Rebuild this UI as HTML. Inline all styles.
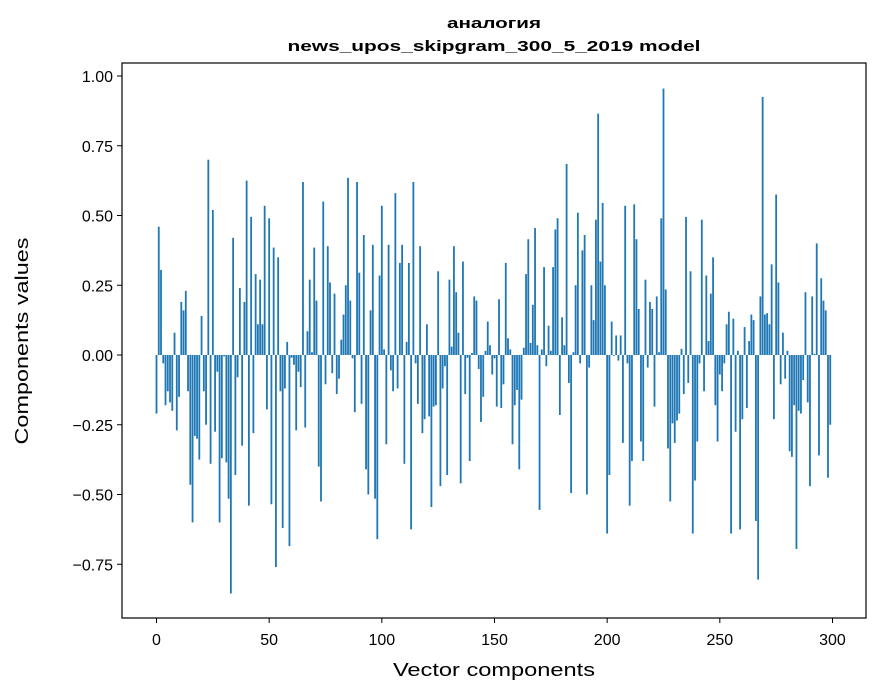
<!DOCTYPE html>
<html><head><meta charset="utf-8"><style>
body{margin:0;background:#fff;}
svg{display:block;font-family:"Liberation Sans","DejaVu Sans",sans-serif;}
</style></head><body>
<svg id="chart" width="880" height="696" viewBox="0 0 880 696" xmlns="http://www.w3.org/2000/svg">
<rect width="880" height="696" fill="#fff"/>
<text x="494" y="28" text-anchor="middle" font-size="15" font-weight="bold" textLength="94" lengthAdjust="spacingAndGlyphs">аналогия</text>
<text x="494" y="51" text-anchor="middle" font-size="15" font-weight="bold" textLength="413" lengthAdjust="spacingAndGlyphs">news_upos_skipgram_300_5_2019 model</text>
<g id="bars"></g>
<g id="xticks"></g>
<g id="yticks"></g>
<rect x="122" y="63" width="744" height="555" fill="none" stroke="#000" stroke-width="1.2"/>
<text x="494" y="676" text-anchor="middle" font-size="18" textLength="202" lengthAdjust="spacingAndGlyphs">Vector components</text>
<text transform="translate(28,341) rotate(-90)" text-anchor="middle" font-size="18" textLength="207" lengthAdjust="spacingAndGlyphs">Components values</text>
</svg>
<script>
const values = [
-0.21,0.46,0.305,-0.03,-0.18,-0.13,-0.17,-0.20,0.08,-0.27,
-0.15,0.19,0.16,0.23,-0.13,-0.465,-0.60,-0.29,-0.30,-0.375,
0.14,-0.13,-0.25,0.70,-0.39,0.52,-0.275,-0.06,-0.60,-0.37,
-0.005,-0.385,-0.515,-0.855,0.42,-0.43,-0.08,0.24,-0.325,0.19,
0.625,-0.54,0.495,-0.28,0.29,0.11,0.27,0.11,0.535,-0.195,
0.49,-0.535,0.385,-0.76,0.35,-0.13,-0.62,-0.12,0.047,-0.685,
-0.01,-0.035,-0.27,-0.06,-0.115,0.62,-0.26,0.085,0.27,0.01,
0.385,0.195,-0.40,-0.525,0.55,-0.105,0.39,0.26,-0.065,0.22,
-0.14,-0.085,0.055,0.145,0.25,0.635,0.195,-0.012,-0.205,0.62,
0.295,-0.175,0.43,-0.41,-0.50,0.16,0.395,-0.515,-0.66,0.285,
0.535,0.02,-0.32,0.395,-0.055,-0.13,0.58,-0.12,0.33,0.395,
-0.39,0.047,0.33,-0.625,0.62,-0.03,-0.175,0.39,-0.28,-0.23,
0.11,-0.22,-0.545,-0.185,-0.18,0.30,-0.47,-0.12,-0.04,-0.43,
0.27,0.03,0.39,0.225,0.08,-0.46,0.335,-0.14,-0.01,-0.38,
0.007,0.21,0.195,-0.05,-0.24,-0.15,0.015,0.12,0.035,-0.07,
-0.012,-0.185,0.20,-0.19,-0.105,0.33,0.06,0.02,-0.32,-0.18,
-0.125,-0.41,-0.16,0.026,0.29,0.415,0.043,0.18,0.455,0.035,
-0.555,0.02,0.315,-0.04,0.105,0.015,0.315,0.45,0.49,-0.215,
0.135,0.035,0.685,-0.10,-0.495,0.01,0.25,0.51,-0.03,0.375,
0.43,-0.50,-0.045,0.25,0.125,0.485,0.865,0.335,0.545,0.25,
-0.64,-0.43,0.12,-0.003,0.07,-0.02,0.07,-0.315,0.535,-0.03,
-0.54,-0.38,0.54,0.415,0.165,-0.31,-0.38,0.27,-0.045,0.19,
0.165,-0.185,0.21,0.01,0.49,0.955,0.235,-0.335,-0.525,-0.245,
-0.315,-0.235,-0.21,0.022,-0.14,0.495,-0.10,0.30,-0.64,-0.45,
-0.31,-0.03,0.485,-0.13,0.285,0.05,0.22,0.35,-0.18,-0.31,
-0.07,-0.13,-0.03,0.11,0.155,-0.64,0.13,-0.275,0.015,-0.625,
-0.23,0.10,-0.19,0.05,0.145,0.125,-0.595,-0.805,0.21,0.925,
0.145,0.15,0.11,0.325,-0.23,0.575,0.26,-0.105,0.08,-0.085,
0.015,-0.345,-0.365,-0.18,-0.695,-0.20,-0.21,-0.09,0.225,-0.17,
-0.47,0.21,0.004,0.40,-0.36,0.275,0.195,0.16,-0.44,-0.25
];
const xTickValues = [0,50,100,150,200,250,300];
const yTickValues = [-0.75,-0.50,-0.25,0.00,0.25,0.50,0.75,1.00];
const yTickLabels = ["\u22120.75","\u22120.50","\u22120.25","0.00","0.25","0.50","0.75","1.00"];

const NS="http://www.w3.org/2000/svg";
function xScale(v){return 156.5+2.2533*v;}
function yScale(v){return 355-279*v;}
const bw=0.8*2.2533;
const gb=document.getElementById('bars');
values.forEach((v,i)=>{
  const r=document.createElementNS(NS,'rect');
  const y0=yScale(0), y1=yScale(v);
  r.setAttribute('x',xScale(i)-bw/2);
  r.setAttribute('y',Math.min(y0,y1));
  r.setAttribute('width',bw);
  r.setAttribute('height',Math.max(Math.abs(y1-y0),0.3));
  r.setAttribute('fill','#1f77b4');
  
  
  gb.appendChild(r);
});
const gx=document.getElementById('xticks');
xTickValues.forEach(t=>{
  const x=xScale(t);
  const l=document.createElementNS(NS,'line');
  l.setAttribute('x1',x);l.setAttribute('x2',x);l.setAttribute('y1',618);l.setAttribute('y2',623);
  l.setAttribute('stroke','#000');
  
  
  gx.appendChild(l);
  const tx=document.createElementNS(NS,'text');
  tx.setAttribute('x',x);tx.setAttribute('y',645);tx.setAttribute('text-anchor','middle');tx.setAttribute('font-size','16');
  tx.textContent=String(t);
  
  
  gx.appendChild(tx);
});
const gy=document.getElementById('yticks');
yTickValues.forEach((t,k)=>{
  const y=yScale(t);
  const l=document.createElementNS(NS,'line');
  l.setAttribute('x1',117);l.setAttribute('x2',122);l.setAttribute('y1',y);l.setAttribute('y2',y);
  l.setAttribute('stroke','#000');
  
  
  gy.appendChild(l);
  const tx=document.createElementNS(NS,'text');
  tx.setAttribute('x',113);tx.setAttribute('y',y+6);tx.setAttribute('text-anchor','end');tx.setAttribute('font-size','16');
  tx.textContent=yTickLabels[k];
  
  
  gy.appendChild(tx);
});
</script>
</body></html>
